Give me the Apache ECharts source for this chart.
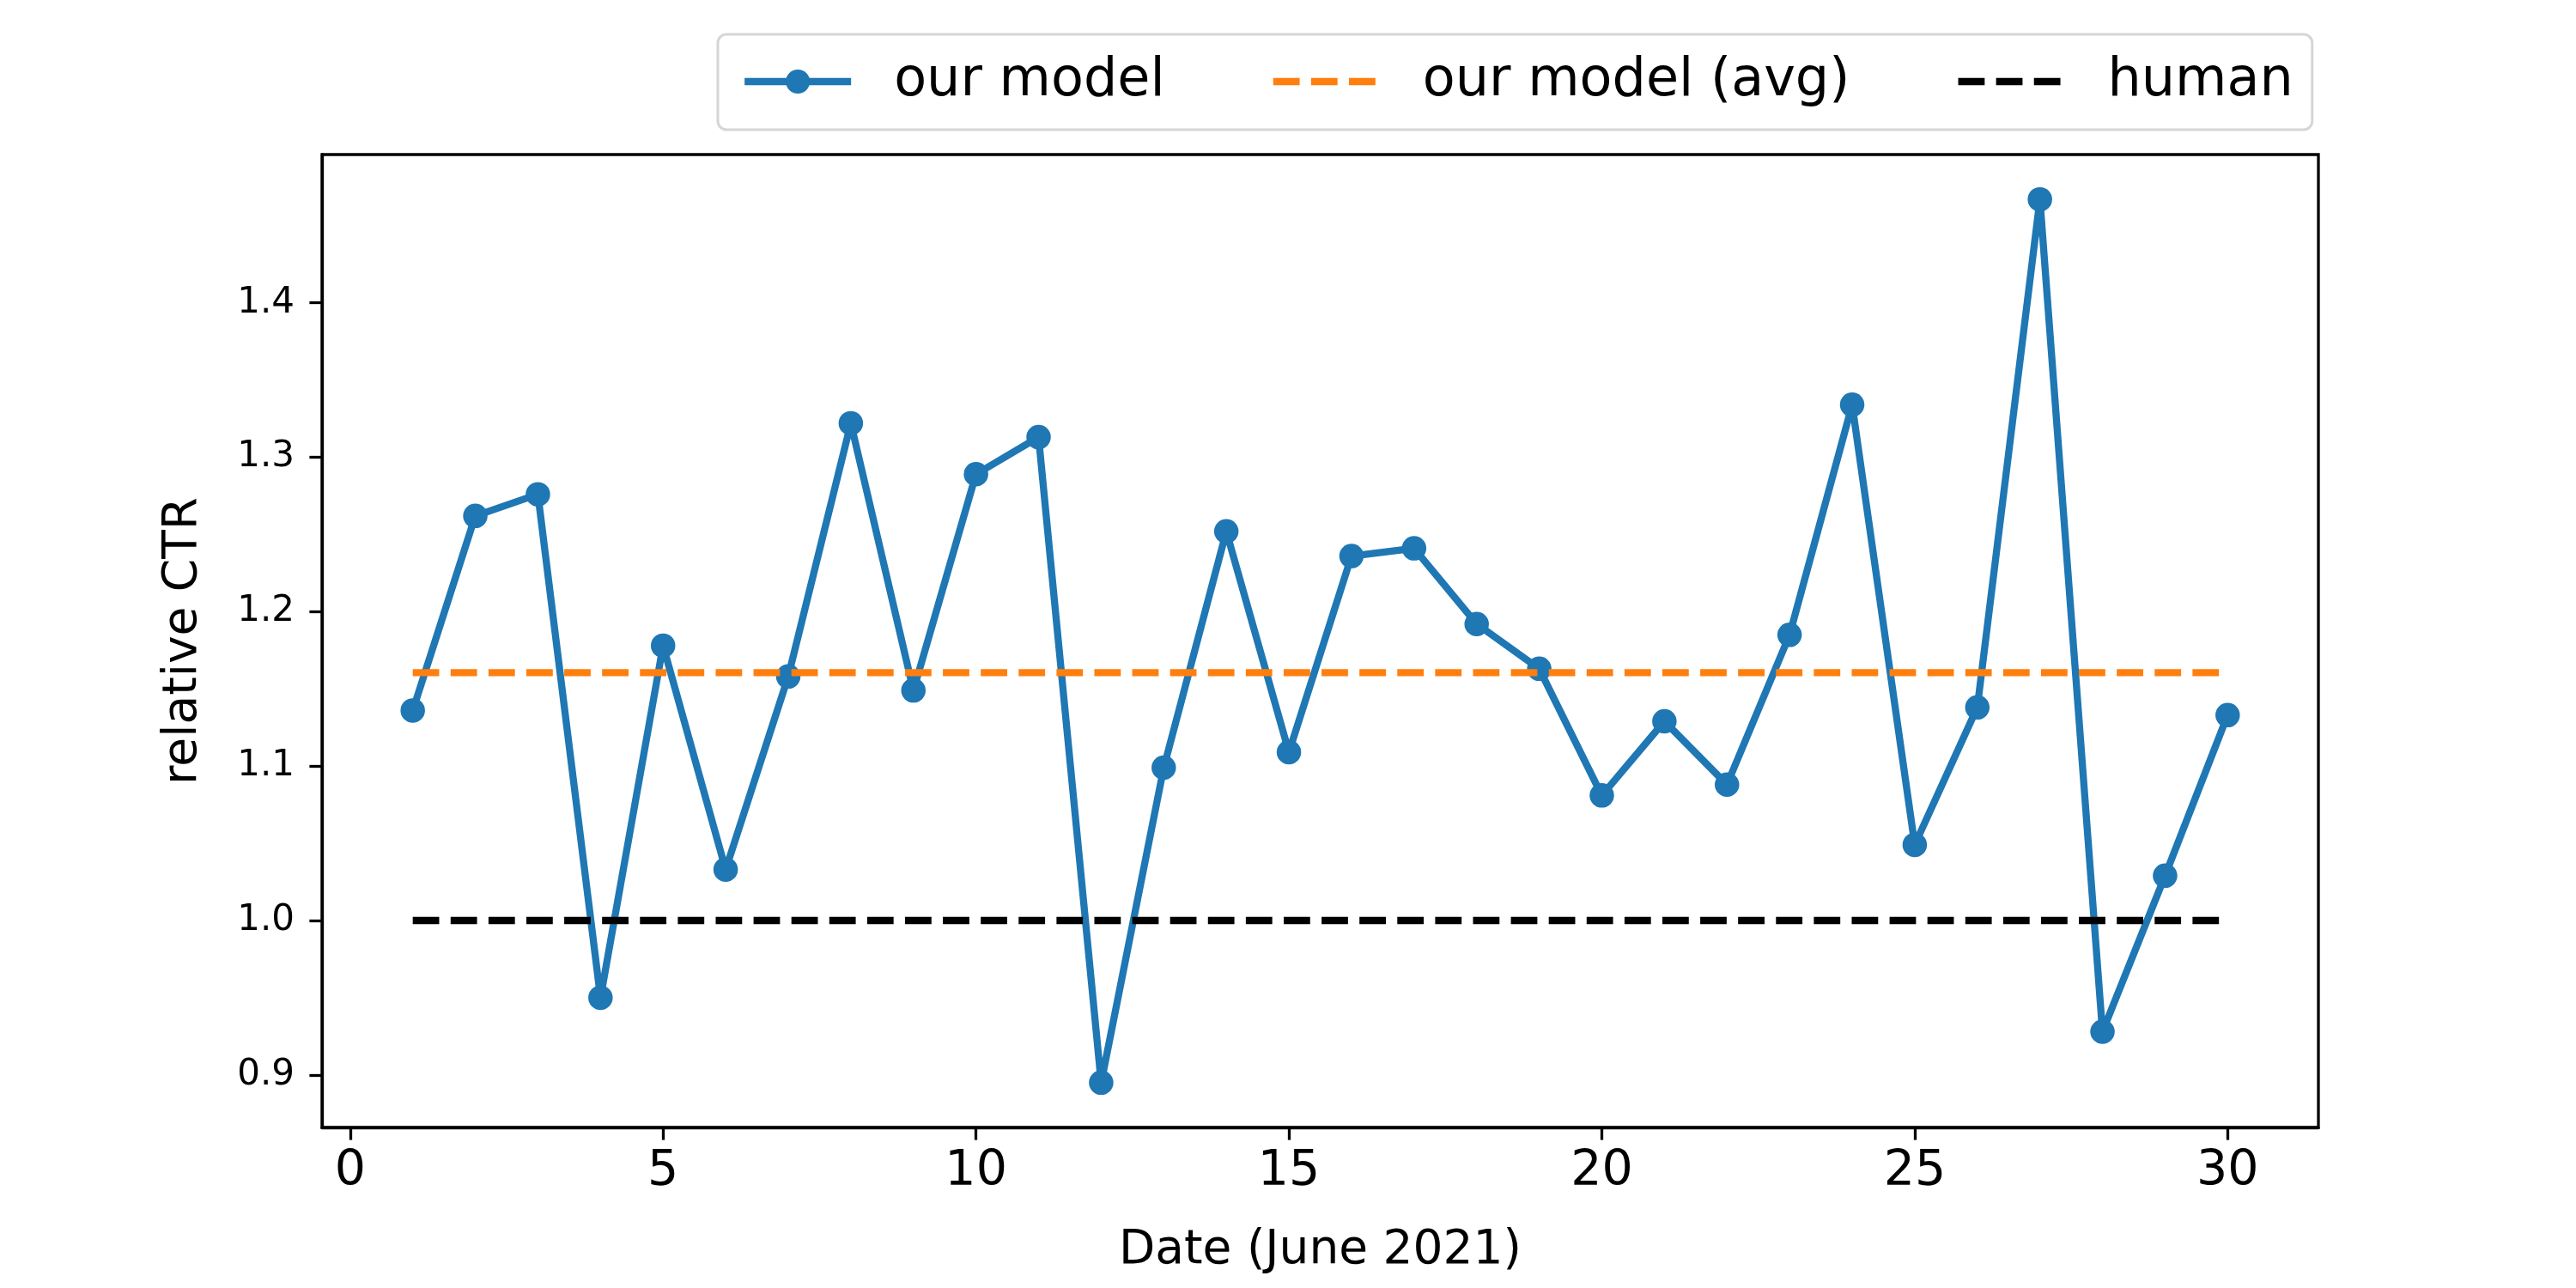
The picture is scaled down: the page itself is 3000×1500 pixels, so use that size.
<!DOCTYPE html>
<html>
<head>
<meta charset="utf-8">
<script src="https://cdn.jsdelivr.net/npm/echarts@6/dist/echarts.min.js"></script>
<style>
  html, body { margin: 0; padding: 0; background: #ffffff; }
  #chart { width: 3000px; height: 1500px; }
</style>
</head>
<body>
<div id="chart"></div>
<script>
// ---- data ----
const days = [1, 2, 3, 4, 5, 6, 7, 8, 9, 10, 11, 12, 13, 14, 15, 16, 17, 18, 19, 20, 21, 22, 23, 24, 25, 26, 27, 28, 29, 30];
const ourModel = [1.136, 1.262, 1.276, 0.950, 1.178, 1.033, 1.158, 1.322, 1.149, 1.289,
                  1.313, 0.895, 1.099, 1.252, 1.109, 1.236, 1.241, 1.192, 1.163, 1.081,
                  1.129, 1.088, 1.185, 1.334, 1.049, 1.138, 1.467, 0.928, 1.029, 1.133];
const ourModelAvg = 1.1605;
const humanValue = 1.0;
const xTickValues = [0, 5, 10, 15, 20, 25, 30];
const yTickValues = [0.9, 1.0, 1.1, 1.2, 1.3, 1.4];
const seriesNames = ['our model', 'our model (avg)', 'human'];
const xTitle = 'Date (June 2021)';
const yTitle = 'relative CTR';

const FONT = 'DejaVu Sans';
const chart = echarts.init(document.getElementById('chart'), null, { renderer: 'canvas' });

const firstDay = days[0];
const lastDay = days[days.length - 1];

const option = {
  animation: false,
  backgroundColor: '#ffffff',
  textStyle: { fontFamily: FONT },
  grid: {
    left: 375, top: 180, width: 2325, height: 1133,
    show: true, borderColor: '#000000', borderWidth: 3.3, backgroundColor: 'transparent'
  },
  legend: {
    left: 836, top: 40,
    orient: 'horizontal',
    padding: [24, 22, 25, 27],
    itemGap: 122,
    itemWidth: 124,
    itemHeight: 35,
    borderColor: '#d6d6d6',
    borderWidth: 3,
    borderRadius: 10,
    backgroundColor: '#ffffff',
    lineStyle: { width: 8.3, cap: 'butt' },
    textStyle: { fontFamily: FONT, fontSize: 62, color: '#000000', padding: [0, 0, 0, 45] },
    data: [
      { name: seriesNames[0] },
      { name: seriesNames[1], itemStyle: { opacity: 0 } },
      { name: seriesNames[2], itemStyle: { opacity: 0 } }
    ]
  },
  xAxis: {
    type: 'value',
    min: -0.45, max: 31.45,
    name: xTitle,
    nameLocation: 'middle',
    nameGap: 116,
    nameTextStyle: { fontFamily: FONT, fontSize: 55, color: '#000000' },
    axisLine: { show: true, onZero: false, lineStyle: { color: '#000000', width: 3.3 } },
    axisTick: { show: true, inside: false, length: 14.6, lineStyle: { color: '#000000', width: 3.3 }, customValues: xTickValues },
    axisLabel: { show: true, fontFamily: FONT, fontSize: 57, color: '#000000', margin: 24, customValues: xTickValues },
    splitLine: { show: false }
  },
  yAxis: {
    type: 'value',
    min: 0.866, max: 1.496,
    name: yTitle,
    nameLocation: 'middle',
    nameRotate: 90,
    nameGap: 134,
    nameTextStyle: { fontFamily: FONT, fontSize: 55, color: '#000000' },
    axisLine: { show: true, onZero: false, lineStyle: { color: '#000000', width: 3.3 } },
    axisTick: { show: true, inside: false, length: 14.6, lineStyle: { color: '#000000', width: 3.3 }, customValues: yTickValues },
    axisLabel: {
      show: true, fontFamily: FONT, fontSize: 42, color: '#000000', margin: 32,
      customValues: yTickValues,
      formatter: function (v) { return Number(v).toFixed(1); }
    },
    splitLine: { show: false }
  },
  series: [
    {
      name: seriesNames[0],
      type: 'line',
      data: days.map(function (d, i) { return [d, ourModel[i]]; }),
      symbol: 'circle',
      symbolSize: 28.5,
      showAllSymbol: true,
      lineStyle: { color: '#1f77b4', width: 8.3, join: 'round', cap: 'butt' },
      itemStyle: { color: '#1f77b4', borderWidth: 0 },
      z: 2
    },
    {
      name: seriesNames[1],
      type: 'line',
      data: [[firstDay, ourModelAvg], [lastDay, ourModelAvg]],
      symbol: 'none',
      lineStyle: { color: '#ff7f0e', width: 8.3, type: [30.8, 13.3], cap: 'butt' },
      itemStyle: { color: '#ff7f0e' },
      z: 3
    },
    {
      name: seriesNames[2],
      type: 'line',
      data: [[firstDay, humanValue], [lastDay, humanValue]],
      symbol: 'none',
      lineStyle: { color: '#000000', width: 8.3, type: [30.8, 13.3], cap: 'butt' },
      itemStyle: { color: '#000000' },
      z: 4
    }
  ]
};
chart.setOption(option);
</script>
</body>
</html>
